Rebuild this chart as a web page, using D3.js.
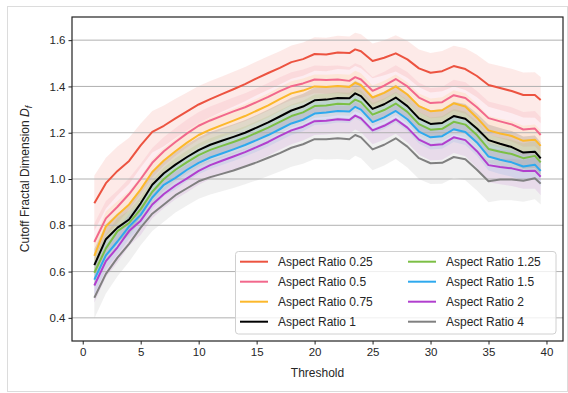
<!DOCTYPE html>
<html>
<head>
<meta charset="utf-8">
<script src="https://cdn.jsdelivr.net/npm/d3@7"></script>
<style>
body { margin: 0; background: #fff; }
svg { display: block; font-family: "Liberation Sans", Arial, sans-serif; }
</style>
</head>
<body>
<div id="chart"></div>
<script>
// thresholds shared by every series
var thresholds = [1,2,3,4,5,6,7,8,9,10,11,12,13,14,15,16,17,18,19,20,21,22,23,23.5,24,25,26,27,28,29,30,31,32,33,34,35,36,37,38,39,39.5];
var xTicks = [0,5,10,15,20,25,30,35,40];
var yTicks = [0.4,0.6,0.8,1.0,1.2,1.4,1.6];
var labels = ["Aspect Ratio 0.25","Aspect Ratio 0.5","Aspect Ratio 0.75","Aspect Ratio 1","Aspect Ratio 1.25","Aspect Ratio 1.5","Aspect Ratio 2","Aspect Ratio 4"];
var colors = ["#ec5340","#f2688c","#fcb82b","#000000","#7cbf45","#2ea9ee","#b13fce","#808080"];

// mean cutoff fractal dimension per aspect ratio
var meanAR025 = [0.895,0.982,1.035,1.078,1.145,1.204,1.23,1.262,1.292,1.322,1.345,1.367,1.388,1.41,1.435,1.458,1.48,1.505,1.518,1.54,1.538,1.547,1.544,1.56,1.552,1.51,1.524,1.543,1.517,1.478,1.459,1.466,1.488,1.475,1.445,1.406,1.393,1.38,1.363,1.363,1.341];
var meanAR05  = [0.728,0.83,0.88,0.935,1.0,1.07,1.12,1.16,1.197,1.23,1.253,1.273,1.292,1.31,1.332,1.355,1.38,1.401,1.413,1.43,1.428,1.43,1.424,1.44,1.43,1.381,1.403,1.432,1.4,1.352,1.328,1.332,1.362,1.35,1.31,1.263,1.249,1.236,1.214,1.218,1.19];
var meanAR075 = [0.668,0.795,0.845,0.89,0.955,1.03,1.08,1.12,1.157,1.19,1.213,1.233,1.252,1.272,1.295,1.318,1.345,1.37,1.382,1.4,1.398,1.402,1.398,1.416,1.405,1.352,1.372,1.4,1.365,1.315,1.293,1.297,1.327,1.313,1.265,1.21,1.197,1.186,1.165,1.17,1.143];
var meanAR1   = [0.628,0.74,0.79,0.825,0.895,0.975,1.025,1.062,1.095,1.125,1.148,1.165,1.182,1.2,1.222,1.245,1.27,1.296,1.313,1.34,1.343,1.35,1.349,1.37,1.358,1.303,1.323,1.352,1.315,1.262,1.238,1.242,1.272,1.26,1.218,1.168,1.152,1.138,1.114,1.118,1.089];
var meanAR125 = [0.595,0.7,0.775,0.81,0.87,0.945,1.0,1.04,1.073,1.103,1.126,1.143,1.16,1.178,1.2,1.222,1.247,1.272,1.288,1.315,1.318,1.325,1.323,1.343,1.332,1.278,1.298,1.326,1.29,1.237,1.213,1.217,1.247,1.235,1.19,1.13,1.118,1.108,1.09,1.1,1.072];
var meanAR15  = [0.565,0.67,0.73,0.795,0.845,0.92,0.975,1.005,1.04,1.07,1.093,1.11,1.128,1.147,1.168,1.19,1.215,1.24,1.256,1.283,1.287,1.294,1.292,1.312,1.3,1.246,1.266,1.294,1.258,1.205,1.18,1.185,1.215,1.203,1.158,1.097,1.083,1.072,1.054,1.062,1.035];
var meanAR2   = [0.54,0.645,0.705,0.775,0.82,0.89,0.935,0.972,1.003,1.035,1.06,1.079,1.097,1.116,1.138,1.16,1.186,1.21,1.226,1.25,1.252,1.258,1.255,1.274,1.262,1.21,1.23,1.258,1.222,1.17,1.146,1.15,1.18,1.168,1.12,1.06,1.052,1.046,1.035,1.036,1.01];
var meanAR4   = [0.487,0.59,0.66,0.72,0.79,0.85,0.89,0.93,0.96,0.99,1.008,1.022,1.037,1.054,1.072,1.092,1.112,1.135,1.15,1.172,1.172,1.176,1.172,1.19,1.18,1.128,1.148,1.176,1.14,1.09,1.068,1.07,1.095,1.085,1.04,0.99,0.998,0.998,0.992,1.003,0.98];

// spread (std) drawn as the shaded band
var stdAR025 = [0.12,0.11,0.105,0.1,0.095,0.09,0.088,0.085,0.082,0.08,0.078,0.076,0.075,0.074,0.073,0.072,0.072,0.072,0.072,0.072,0.072,0.072,0.072,0.072,0.073,0.075,0.076,0.078,0.08,0.082,0.085,0.087,0.088,0.09,0.092,0.094,0.095,0.096,0.097,0.098,0.1];
var stdAR05  = [0.08,0.075,0.07,0.068,0.066,0.064,0.062,0.06,0.06,0.06,0.06,0.06,0.06,0.06,0.06,0.06,0.06,0.06,0.06,0.06,0.06,0.06,0.06,0.06,0.06,0.06,0.06,0.06,0.062,0.064,0.065,0.066,0.067,0.068,0.07,0.072,0.073,0.074,0.075,0.076,0.077];
var stdAR075 = [0.07,0.065,0.06,0.058,0.056,0.055,0.054,0.053,0.052,0.052,0.052,0.052,0.052,0.052,0.052,0.052,0.052,0.052,0.052,0.052,0.052,0.052,0.052,0.052,0.052,0.052,0.052,0.052,0.053,0.054,0.055,0.056,0.057,0.058,0.06,0.062,0.063,0.064,0.065,0.066,0.067];
var stdAR1   = [0.07,0.065,0.062,0.06,0.058,0.057,0.056,0.055,0.055,0.055,0.055,0.055,0.055,0.055,0.055,0.055,0.055,0.055,0.055,0.055,0.055,0.055,0.055,0.055,0.055,0.055,0.055,0.055,0.056,0.057,0.058,0.06,0.062,0.064,0.066,0.067,0.068,0.069,0.07,0.07,0.07];
var stdAR125 = [0.065,0.06,0.056,0.054,0.052,0.05,0.05,0.05,0.05,0.05,0.05,0.05,0.05,0.05,0.05,0.05,0.05,0.05,0.05,0.05,0.05,0.05,0.05,0.05,0.05,0.05,0.05,0.05,0.051,0.052,0.053,0.054,0.055,0.056,0.058,0.06,0.061,0.062,0.063,0.064,0.065];
var stdAR15  = [0.065,0.06,0.056,0.054,0.052,0.05,0.05,0.05,0.05,0.05,0.05,0.05,0.05,0.05,0.05,0.05,0.05,0.05,0.05,0.05,0.05,0.05,0.05,0.05,0.05,0.05,0.05,0.05,0.051,0.052,0.053,0.054,0.055,0.056,0.058,0.06,0.061,0.062,0.063,0.064,0.065];
var stdAR2   = [0.075,0.07,0.066,0.064,0.062,0.06,0.06,0.06,0.06,0.06,0.06,0.06,0.06,0.06,0.06,0.06,0.06,0.06,0.06,0.06,0.06,0.06,0.06,0.06,0.06,0.06,0.06,0.062,0.064,0.065,0.066,0.067,0.068,0.07,0.072,0.074,0.075,0.076,0.077,0.078,0.08];
var stdAR4   = [0.09,0.085,0.08,0.078,0.076,0.075,0.075,0.075,0.075,0.075,0.075,0.075,0.076,0.077,0.078,0.079,0.08,0.082,0.084,0.086,0.088,0.09,0.09,0.09,0.09,0.09,0.09,0.09,0.09,0.09,0.09,0.09,0.09,0.09,0.09,0.09,0.09,0.09,0.09,0.09,0.09];

var means = [meanAR025, meanAR05, meanAR075, meanAR1, meanAR125, meanAR15, meanAR2, meanAR4];
var stds = [stdAR025, stdAR05, stdAR075, stdAR1, stdAR125, stdAR15, stdAR2, stdAR4];

var series = labels.map(function (name, i) {
    return {
        name: name,
        color: colors[i],
        points: thresholds.map(function (t, j) {
            return {t: t, m: means[i][j], s: stds[i][j]};
        })
    };
});

var W = 568, H = 393;
// axes box edges (window.top is read-only, so no bare "top")
var plotL = 72, plotR = 563, plotT = 17, plotB = 341;

var svg = d3.select("#chart").append("svg")
    .attr("width", W)
    .attr("height", H);

// light outer frame around the figure
svg.append("rect")
    .attr("x", 7.5).attr("y", 6.5)
    .attr("width", 560).attr("height", 385)
    .attr("fill", "none")
    .attr("stroke", "#dcdcdc")
    .attr("stroke-width", 1);

var x = d3.scaleLinear().domain([-0.925, 41.425]).range([plotL, plotR]);
var y = d3.scaleLinear().domain([0.3, 1.7]).range([plotB, plotT]);

// clip to the axes box
svg.append("clipPath").attr("id", "plotclip")
    .append("rect")
    .attr("x", plotL).attr("y", plotT)
    .attr("width", plotR - plotL).attr("height", plotB - plotT);

var plot = svg.append("g").attr("clip-path", "url(#plotclip)");

// bands
var band = d3.area()
    .x(function (d) { return x(d.t); })
    .y0(function (d) { return y(d.m - d.s); })
    .y1(function (d) { return y(d.m + d.s); });

plot.selectAll("path.band").data(series)
    .enter().append("path")
    .attr("class", "band")
    .attr("d", function (d) { return band(d.points); })
    .attr("fill", function (d) { return d.color; })
    .attr("fill-opacity", 0.12)
    .attr("stroke", "none");

// horizontal grid
plot.selectAll("line.grid").data(yTicks)
    .enter().append("line")
    .attr("class", "grid")
    .attr("x1", plotL).attr("x2", plotR)
    .attr("y1", function (d) { return y(d); })
    .attr("y2", function (d) { return y(d); })
    .attr("stroke", "#b0b0b0")
    .attr("stroke-width", 1);

// mean lines
var line = d3.line()
    .x(function (d) { return x(d.t); })
    .y(function (d) { return y(d.m); });

plot.selectAll("path.mean").data(series)
    .enter().append("path")
    .attr("class", "mean")
    .attr("d", function (d) { return line(d.points); })
    .attr("fill", "none")
    .attr("stroke", function (d) { return d.color; })
    .attr("stroke-width", 2)
    .attr("stroke-linejoin", "round");

// axes
var xAxis = svg.append("g")
    .attr("transform", "translate(0," + plotB + ")")
    .call(d3.axisBottom(x).tickValues(xTicks).tickSize(3.5).tickPadding(3).tickFormat(d3.format("d")));
var yAxis = svg.append("g")
    .attr("transform", "translate(" + plotL + ",0)")
    .call(d3.axisLeft(y).tickValues(yTicks).tickSize(3.5).tickPadding(3).tickFormat(d3.format(".1f")));

[xAxis, yAxis].forEach(function (g) {
    g.select(".domain").remove();
    g.selectAll("line").attr("stroke", "#222").attr("stroke-width", 1);
    g.selectAll("text")
        .attr("fill", "#262626")
        .style("font-size", "11.5px")
        .style("font-family", "'Liberation Sans', Arial, sans-serif");
});

// box
svg.append("rect")
    .attr("x", plotL).attr("y", plotT)
    .attr("width", plotR - plotL).attr("height", plotB - plotT)
    .attr("fill", "none")
    .attr("stroke", "#222")
    .attr("stroke-width", 1.2);

svg.append("text")
    .attr("x", (plotL + plotR) / 2)
    .attr("y", 377)
    .attr("text-anchor", "middle")
    .attr("fill", "#262626")
    .style("font-size", "12px")
    .text("Threshold");

var ylab = svg.append("text")
    .attr("transform", "translate(29," + ((plotT + plotB) / 2) + ") rotate(-90)")
    .attr("text-anchor", "middle")
    .attr("fill", "#262626")
    .style("font-size", "12px");
ylab.append("tspan").text("Cutoff Fractal Dimension ");
ylab.append("tspan").style("font-style", "italic").text("D");
ylab.append("tspan").style("font-style", "italic").style("font-size", "9px").attr("dy", 2.5).text("f");

// legend
var lg = svg.append("g");
lg.append("rect")
    .attr("x", 235.5).attr("y", 251.5)
    .attr("width", 320.5).attr("height", 82.5)
    .attr("rx", 3)
    .attr("fill", "#fff").attr("fill-opacity", 0.8)
    .attr("stroke", "#d0d0d0");

var items = lg.selectAll("g.item").data(series)
    .enter().append("g")
    .attr("class", "item")
    .attr("transform", function (d, i) {
        var col = Math.floor(i / 4), row = i % 4;
        return "translate(" + (col === 0 ? 240 : 408) + "," + (261.7 + row * 20) + ")";
    });
items.append("line")
    .attr("x1", 0).attr("x2", 28)
    .attr("stroke", function (d) { return d.color; })
    .attr("stroke-width", 2);
items.append("text")
    .attr("x", 38).attr("dy", "0.35em")
    .attr("fill", "#262626")
    .style("font-size", "12px")
    .text(function (d) { return d.name; });
</script>
</body>
</html>
